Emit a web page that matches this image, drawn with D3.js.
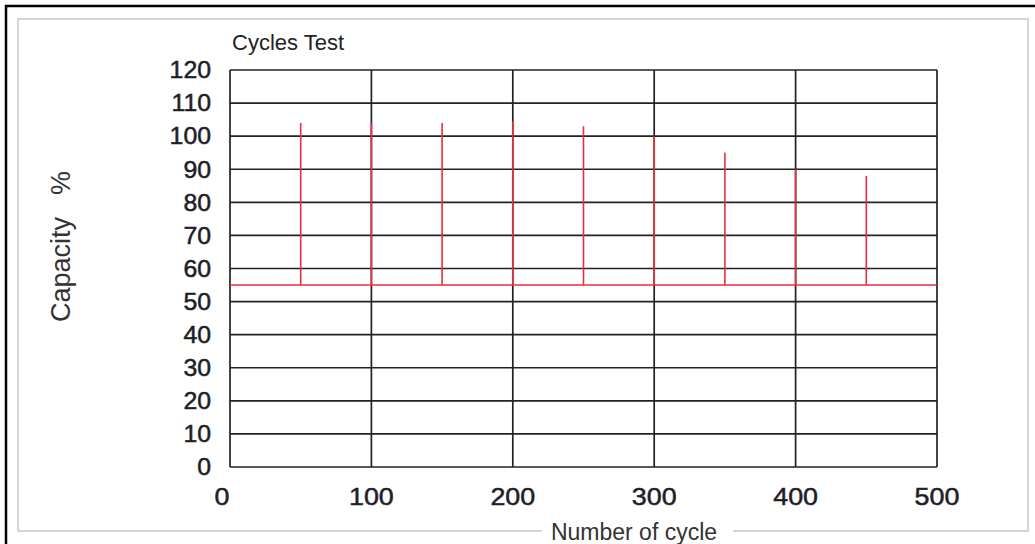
<!DOCTYPE html>
<html lang="en">
<head>
<meta charset="UTF-8">
<title>Cycles Test</title>
<script src="https://d3js.org/d3.v7.min.js"></script>
<style>
html, body { margin: 0; padding: 0; background: #fff; }
svg { display: block; }
text { font-family: "Liberation Sans", Arial, sans-serif; }
.num { fill: #1e1e28; stroke: #1e1e28; stroke-width: 0.5; }
</style>
</head>
<body>
<script>
// chart values
const cycles = [50, 100, 150, 200, 250, 300, 350, 400, 450];
const capacity = [104, 104, 104, 104.5, 103, 100, 95, 90, 88];
const baseLevel = 55;
const xTicks = [0, 100, 200, 300, 400, 500];
const yTicks = [0, 10, 20, 30, 40, 50, 60, 70, 80, 90, 100, 110, 120];

const w = 1035, h = 544;
const plotLeft = 230, plotRight = 937, plotTop = 70, plotBottom = 467;

const svg = d3.select('body').append('svg').attr('width', w).attr('height', h);

const x = d3.scaleLinear().domain([0, 500]).range([plotLeft, plotRight]);
const y = d3.scaleLinear().domain([0, 120]).range([plotBottom, plotTop]);

// frames
svg.append('rect').attr('x', 6).attr('y', 6).attr('width', 1100).attr('height', 600)
    .attr('fill', 'none').attr('stroke', '#000').attr('stroke-width', 2.5);
svg.append('rect').attr('x', 18).attr('y', 19).attr('width', 1010).attr('height', 512)
    .attr('fill', 'none').attr('stroke', '#c8c8c8').attr('stroke-width', 1.5);

// grid
const grid = svg.append('g').attr('stroke', '#222').attr('stroke-width', 1.7);
grid.selectAll('.h').data(yTicks).enter().append('line')
    .attr('x1', x(0)).attr('x2', x(500))
    .attr('y1', d => y(d)).attr('y2', d => y(d));
grid.selectAll('.v').data(xTicks).enter().append('line')
    .attr('x1', d => x(d)).attr('x2', d => x(d))
    .attr('y1', y(0)).attr('y2', y(120));

// red series
const red = svg.append('g').attr('stroke', '#e3303c').attr('stroke-width', 1.6);
red.append('line').attr('x1', x(0)).attr('x2', x(500))
    .attr('y1', y(baseLevel)).attr('y2', y(baseLevel));
red.selectAll('.spike').data(cycles).enter().append('line')
    .attr('x1', d => x(d)).attr('x2', d => x(d))
    .attr('y1', y(baseLevel)).attr('y2', (d, i) => y(capacity[i]));

// y tick labels
svg.append('g').selectAll('text').data(yTicks).enter().append('text')
    .attr('class', 'num')
    .attr('transform', d => 'translate(211,' + y(d) + ') scale(1.08,1)')
    .attr('dy', '0.36em').attr('text-anchor', 'end')
    .attr('font-size', 23)
    .text(d => d);

// x tick labels
svg.append('g').selectAll('text').data(xTicks).enter().append('text')
    .attr('class', 'num')
    .attr('transform', d => 'translate(' + (x(d) - (d === 0 ? 8 : 0)) + ',505) scale(1.12,1)')
    .attr('text-anchor', 'middle')
    .attr('font-size', 24)
    .text(d => d);

// title
svg.append('text').attr('x', 232).attr('y', 50).attr('font-size', 22).attr('fill', '#222')
    .text('Cycles Test');

// axis titles
const yt = svg.append('text').attr('transform', 'translate(70,322) rotate(-90)')
    .attr('font-size', 27).attr('fill', '#333');
yt.append('tspan').text('Capacity');
yt.append('tspan').attr('dx', 22).text('%');

svg.append('rect').attr('x', 542).attr('y', 525).attr('width', 191).attr('height', 12).attr('fill', '#fff');
svg.append('text').attr('x', 634).attr('y', 540).attr('text-anchor', 'middle')
    .attr('font-size', 23).attr('fill', '#333').text('Number of cycle');
</script>
</body>
</html>
